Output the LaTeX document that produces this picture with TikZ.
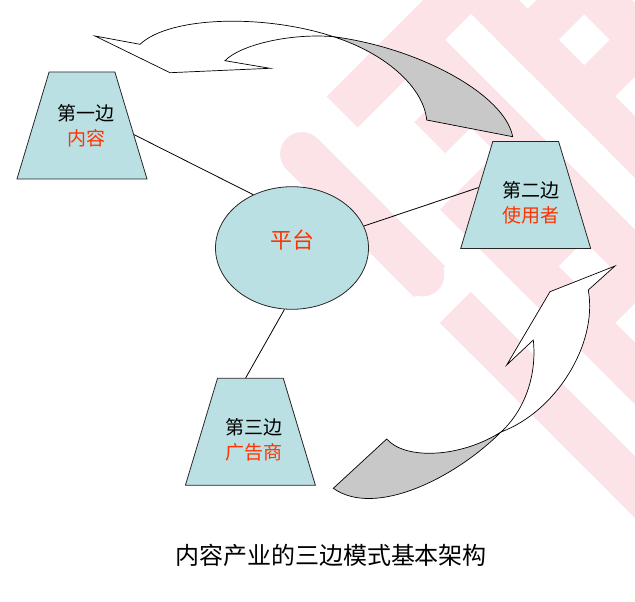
\documentclass[tikz,border=0pt]{standalone}
\usepackage{fontspec}
\newfontfamily\cjk{Noto Sans CJK SC}
\usetikzlibrary{shapes.geometric}
\definecolor{sidefill}{RGB}{187,224,227}
\definecolor{labelred}{RGB}{255,51,0}
\definecolor{backgray}{RGB}{200,200,200}
\definecolor{wmpink}{RGB}{251,227,231}
% band of the faint logo, given by p=x+y and q=x-y ranges
\newcommand{\wmband}[5][wmpink]{%
  \fill[#1] ({((#2)+(#4))/2},{((#2)-(#4))/2}) -- ({((#3)+(#4))/2},{((#3)-(#4))/2})
    -- ({((#3)+(#5))/2},{((#3)-(#5))/2}) -- ({((#2)+(#5))/2},{((#2)-(#5))/2}) -- cycle;}

\begin{document}
\begin{tikzpicture}[x=1pt,y=-1pt,
  side/.style={trapezium,trapezium angle=73.3,inner xsep=32.9pt,inner ysep=53.5pt,
    draw=black!85,line width=0.8pt,fill=sidefill},
  sidetext/.style={font=\cjk\fontsize{19}{25}\selectfont,align=center},
  platform/.style={ellipse,minimum width=153pt,minimum height=122.6pt,inner sep=0pt,
    draw=black!85,line width=0.8pt,fill=sidefill},
  plattext/.style={font=\cjk\fontsize{22}{26}\selectfont,text=labelred},
  link/.style={draw=black,line width=0.8pt},
  face/.style={draw=black,line width=0.7pt,fill=white,line join=miter},
  back/.style={draw=black,line width=0.7pt,fill=backgray},
  caption/.style={font=\cjk\fontsize{24}{28}\selectfont}]
\useasboundingbox (0,0) rectangle (635,602);
\fill[white] (0,0) rectangle (635,602);

% faint logo in the background
\begin{scope}
  \clip (0,0) rectangle (635,602);
  \wmband{423}{485}{230}{860}
  \wmband{536.3}{598.3}{292}{860}
  \foreach \k in {2,...,6}
    \wmband{423+113.3*\k}{485+113.3*\k}{117}{860};
  \wmband{650}{1163}{230.3}{292.3}
  \foreach \k in {2,...,6}
    \wmband{485}{1163}{117+113.3*\k}{179+113.3*\k};
  \fill[wmpink,rounded corners=22pt] (271,154) -- (422.5,305.5) -- (453.5,274.5) -- (302,123) -- cycle;
  \wmband{763}{1300}{117}{179}
  % open channels
  \wmband[white]{485}{1300}{405.6}{456.9}
  \wmband[white]{598.3}{1300}{179}{230.3}
\end{scope}

% curved arrow at the top
\draw[back] (333.5,36.7) .. controls (420,48) and (505,95) .. (512.7,136.7)
  -- (426.7,120) .. controls (424,90) and (390,55) .. cycle;
\draw[face] (333.5,36.7) .. controls (265,14) and (170,16) .. (140,44.3)
  -- (95,36) -- (170,72.7) -- (270,68.3) -- (225,60.7)
  .. controls (240,45) and (290,33) .. cycle;

% curved arrow at the bottom
\draw[back] (501,432) .. controls (455,478) and (375,518) .. (333.3,488.3)
  -- (386.7,439) .. controls (405,460) and (460,458) .. cycle;
\draw[face] (501,432) .. controls (555,412) and (598,345) .. (588.3,290)
  -- (615,266) -- (550,291.7) -- (506.7,365) -- (533.3,340)
  .. controls (537,375) and (525,410) .. cycle;

% the three sides and the platform
\node[side,label={[sidetext,xshift=4pt]center:{第一边\\\textcolor{labelred}{内容}}}] (content) at (82,125.5) {};
\node[side,label={[sidetext,xshift=5pt,yshift=-7.5pt]center:{第二边\\\textcolor{labelred}{使用者}}}] (user) at (525.7,195) {};
\node[side,label={[sidetext,xshift=3.6pt,yshift=-8pt]center:{第三边\\\textcolor{labelred}{广告商}}}] (adv) at (250.4,431.8) {};
\node[platform,label={[plattext,yshift=8pt]center:平台}] (plat) at (292,248) {};

\draw[link] (content.-10) -- (plat.126);
\draw[link] (plat.17) -- (user.171);
\draw[link] (plat.263) -- (adv.95);

\node[caption] (title) at (331,555) {内容产业的三边模式基本架构};
\end{tikzpicture}
\end{document}
